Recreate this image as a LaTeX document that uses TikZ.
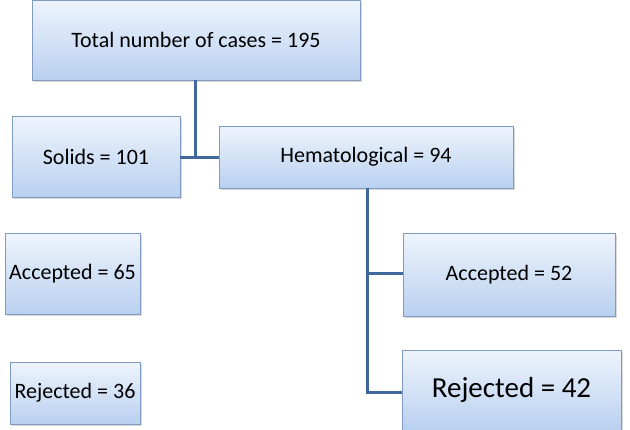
\documentclass[tikz,border=0pt]{standalone}
\usepackage{fontspec}
\setmainfont{Carlito}
\usetikzlibrary{shadows}
\definecolor{bord}{HTML}{7F9CC0}
\definecolor{fillb}{HTML}{B9D0F0}
\definecolor{fillt}{HTML}{EEF4FC}
\definecolor{line}{HTML}{41689A}
\begin{document}
\begin{tikzpicture}[x=1pt,y=-1pt,
  box/.style={draw=bord, line width=0.6pt, top color=fillt, bottom color=fillb,
    drop shadow={opacity=0.3,shadow xshift=1.5pt,shadow yshift=-1.5pt}, inner sep=0pt, font=\fontsize{22}{26}\selectfont},
  conn/.style={draw=line, line width=3pt}]
\useasboundingbox (0,0) rectangle (630,429);
\node[box, minimum width=328pt, minimum height=80pt] (total) at (196,40) {Total number of cases = 195};
\node[box, minimum width=168pt, minimum height=81pt] (solids) at (96,156.5) {Solids = 101};
\node[box, minimum width=294pt, minimum height=62pt] (hema) at (366,157) {Hematological = 94};
\node[box, minimum width=135pt, minimum height=81pt] (acc1) at (72.5,273.5) {Accepted = 65};
\node[box, minimum width=130pt, minimum height=62pt] (rej1) at (75,393) {Rejected = 36};
\node[box, minimum width=212pt, minimum height=83pt] (acc2) at (509,274.5) {Accepted = 52};
\node[box, minimum width=219pt, minimum height=80pt, font=\fontsize{29}{33}\selectfont] (rej2) at (511.5,390) {Rejected = 42};
\coordinate (j1) at (195,157);
\coordinate (j2) at (367,273);
\coordinate (j3) at (367,392);
\draw[conn] (total.south -| j1) -- (j1);
\draw[conn] (solids.east |- j1) -- (hema.west |- j1);
\draw[conn] (hema.south -| j2) -- (j3) -- (rej2.west |- j3);
\draw[conn] (j2) -- (acc2.west |- j2);
\end{tikzpicture}
\end{document}
